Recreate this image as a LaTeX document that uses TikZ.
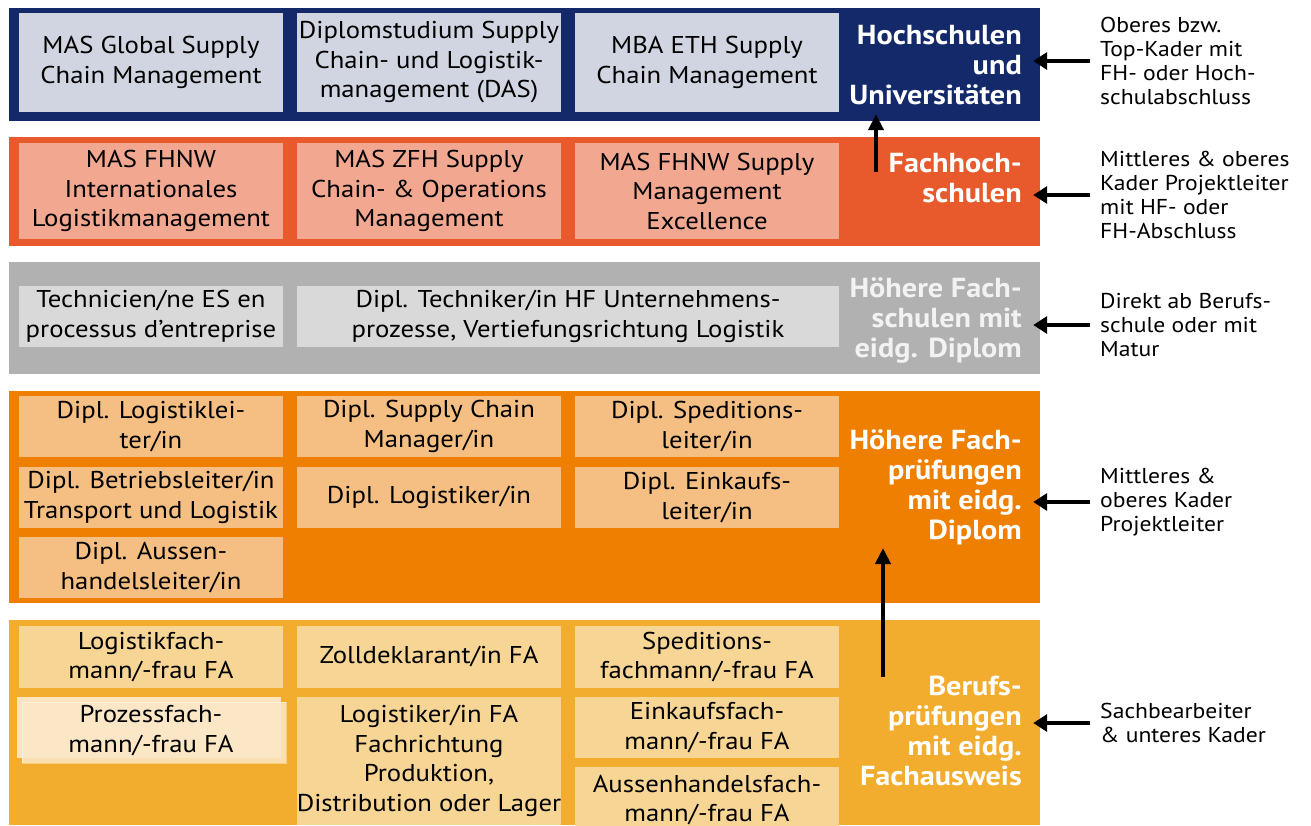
\documentclass[tikz,border=0pt]{standalone}
\usepackage{fontspec}
\setmainfont[FakeStretch=1.1]{PT Sans}
\usepackage{tikz}
\usetikzlibrary{arrows.meta,positioning}

\definecolor{navyband}{HTML}{13296A}
\definecolor{navybox}{HTML}{D0D5E1}
\definecolor{redband}{HTML}{E85A2B}
\definecolor{redbox}{HTML}{F2A890}
\definecolor{grayband}{HTML}{B1B1B1}
\definecolor{graybox}{HTML}{D9D9D9}
\definecolor{orangeband}{HTML}{EF7F00}
\definecolor{orangebox}{HTML}{F5BE82}
\definecolor{yellowband}{HTML}{F2AC2E}
\definecolor{yellowbox}{HTML}{F7D595}
\definecolor{creambox}{HTML}{FCE8C8}

\begin{document}
\begin{tikzpicture}
		[
			x=1pt, y=-1pt,
			band/.style={draw=none, minimum width=1031pt, inner sep=0pt},
			course/.style={draw=none, minimum width=264pt, inner sep=0pt, align=center,
				font=\fontsize{24.3}{29.5}\selectfont},
			level/.style={anchor=east, align=right, text=white, inner sep=0pt,
				font=\bfseries\fontsize{27.5}{30}\selectfont},
			target/.style={anchor=west, align=left, inner sep=0pt,
				font=\fontsize{21.5}{24.3}\selectfont},
			arrow/.style={-{Triangle[length=14pt,width=17pt]}, line width=4.5pt,
				shorten <=10pt, shorten >=-7pt},
			uparrow/.style={-{Triangle[length=16pt,width=15pt]}, line width=4pt}
		]

		\useasboundingbox (0,0) rectangle (1311,825);

		% bands
		\node[band, fill=navyband, minimum height=113pt]	(b1) at ( 524.5,  64.5 ) {};
		\node[band, fill=redband, minimum height=109pt]		(b2) at ( 524.5, 191.5 ) {};
		\node[band, fill=grayband, minimum height=112pt]	(b3) at ( 524.5, 318.0 ) {};
		\node[band, fill=orangeband, minimum height=212pt]	(b4) at ( 524.5, 497.0 ) {};
		\node[band, fill=yellowband, minimum height=205pt]	(b5) at ( 524.5, 722.5 ) {};

		% level labels
		\node[level] (l1) at ( 1022,  65 ) {Hochschulen\\und\\Universitäten};
		\node[level] (l2) at ( 1022, 178 ) {Fachhoch-\\schulen};
		\node[level, text=white!95!black] (l3) at ( 1022, 320 ) {Höhere Fach-\\schulen mit\\eidg. Diplom};
		\node[level] (l4) at ( 1022, 487 ) {Höhere Fach-\\prüfungen\\mit eidg.~\\Diplom};
		\node[level] (l5) at ( 1022, 731 ) {Berufs-\\prüfungen\\mit eidg.~\\Fachausweis};

		% Hochschulen und Universitaeten
		\node[course, fill=navybox, minimum height=99pt] (hs1) at ( 151, 62.5 ) {MAS Global Supply\\Chain Management};
		\node[course, fill=navybox, minimum height=99pt] (hs2) at ( 429, 62.5 ) {Diplomstudium Supply\\Chain- und Logistik-\\management (DAS)};
		\node[course, fill=navybox, minimum height=99pt] (hs3) at ( 707, 62.5 ) {MBA ETH Supply\\Chain Management};

		% Fachhochschulen
		\node[course, fill=redbox, minimum height=96pt] (fh1) at ( 151, 191 ) {MAS FHNW\\Internationales\\Logistikmanagement};
		\node[course, fill=redbox, minimum height=96pt] (fh2) at ( 429, 191 ) {MAS ZFH Supply\\Chain- \& Operations\\Management};
		\node[course, fill=redbox, minimum height=96pt] (fh3) at ( 707, 191 ) {MAS FHNW Supply\\Management\\Excellence};

		% Hoehere Fachschulen
		\node[course, fill=graybox, minimum height=61pt] (hf1) at ( 151, 316.5 ) {Technicien/ne ES en\\processus d’entreprise};
		\node[course, fill=graybox, minimum height=61pt, minimum width=542pt] (hf2) at ( 568, 316.5 ) {Dipl. Techniker/in HF Unternehmens-\\prozesse, Vertiefungsrichtung Logistik};

		% Hoehere Fachpruefungen
		\node[course, fill=orangebox, minimum height=61pt] (hp1) at ( 151, 426.5 ) {Dipl. Logistiklei-\\ter/in};
		\node[course, fill=orangebox, minimum height=61pt] (hp2) at ( 429, 426.5 ) {Dipl. Supply Chain\\Manager/in};
		\node[course, fill=orangebox, minimum height=61pt] (hp3) at ( 707, 426.5 ) {Dipl. Speditions-\\leiter/in};
		\node[course, fill=orangebox, minimum height=61pt] (hp4) at ( 151, 497.5 ) {Dipl. Betriebsleiter/in\\Transport und Logistik};
		\node[course, fill=orangebox, minimum height=61pt] (hp5) at ( 429, 497.5 ) {Dipl. Logistiker/in};
		\node[course, fill=orangebox, minimum height=61pt] (hp6) at ( 707, 497.5 ) {Dipl. Einkaufs-\\leiter/in};
		\node[course, fill=orangebox, minimum height=61pt] (hp7) at ( 151, 567.5 ) {Dipl. Aussen-\\handelsleiter/in};

		% Berufspruefungen
		\node[course, fill=yellowbox, minimum height=62pt] (bp1) at ( 151, 657 ) {Logistikfach-\\mann/-frau FA};
		\node[course, fill=yellowbox, minimum height=62pt] (bp2) at ( 429, 657 ) {Zolldeklarant/in FA};
		\node[course, fill=yellowbox, minimum height=62pt] (bp3) at ( 707, 657 ) {Speditions-\\fachmann/-frau FA};
		\node[course, fill=creambox!80!yellowbox, minimum height=61pt] (bp4s) at ( 149, 727.5 ) {};
		\node[course, fill=creambox, fill opacity=0.85, draw=white, draw opacity=0.4, minimum height=61pt] (bp4) at ( 154, 732.5 ) {};
		\node[course] (bp4t) at ( 151, 730.5 ) {Prozessfach-\\mann/-frau FA};
		\node[course, fill=yellowbox, minimum height=128pt] (bp5) at ( 429, 761 ) {Logistiker/in FA\\Fachrichtung\\Produktion,\\Distribution oder Lager};
		\node[course, fill=yellowbox, minimum height=61pt] (bp6) at ( 707, 727.5 ) {Einkaufsfach-\\mann/-frau FA};
		\node[course, fill=yellowbox, minimum height=66pt] (bp7) at ( 707, 800 ) {Aussenhandelsfach-\\mann/-frau FA};

		% target groups
		\node[target] (t1) at ( 1100,  61 ) {Oberes bzw.\\Top-Kader mit\\FH- oder Hoch-\\schulabschluss};
		\node[target] (t2) at ( 1100, 195 ) {Mittleres \& oberes\\Kader Projektleiter\\mit HF- oder\\FH-Abschluss};
		\node[target] (t3) at ( 1100, 325 ) {Direkt ab Berufs-\\schule oder mit\\Matur};
		\node[target] (t4) at ( 1100, 502 ) {Mittleres \&\\oberes Kader\\Projektleiter};
		\node[target] (t5) at ( 1100, 723 ) {Sachbearbeiter\\\& unteres Kader};

		% target arrows
		\foreach \from/\to in {t1/b1,t2/b2,t3/b3,t4/b4,t5/b5}
		\draw[arrow] (\from.west) -- (\from.west -| \to.east);

		% upward paths
		\coordinate (fhup) at ( 876, 172 );
		\coordinate (bpup) at ( 883, 677 );
		\coordinate (hpin) at ( 883, 548 );
		\draw[uparrow, shorten >=-7pt] (fhup) -- (fhup |- b1.south);
		\draw[uparrow] (bpup) -- (hpin);

	\end{tikzpicture}
\end{document}
